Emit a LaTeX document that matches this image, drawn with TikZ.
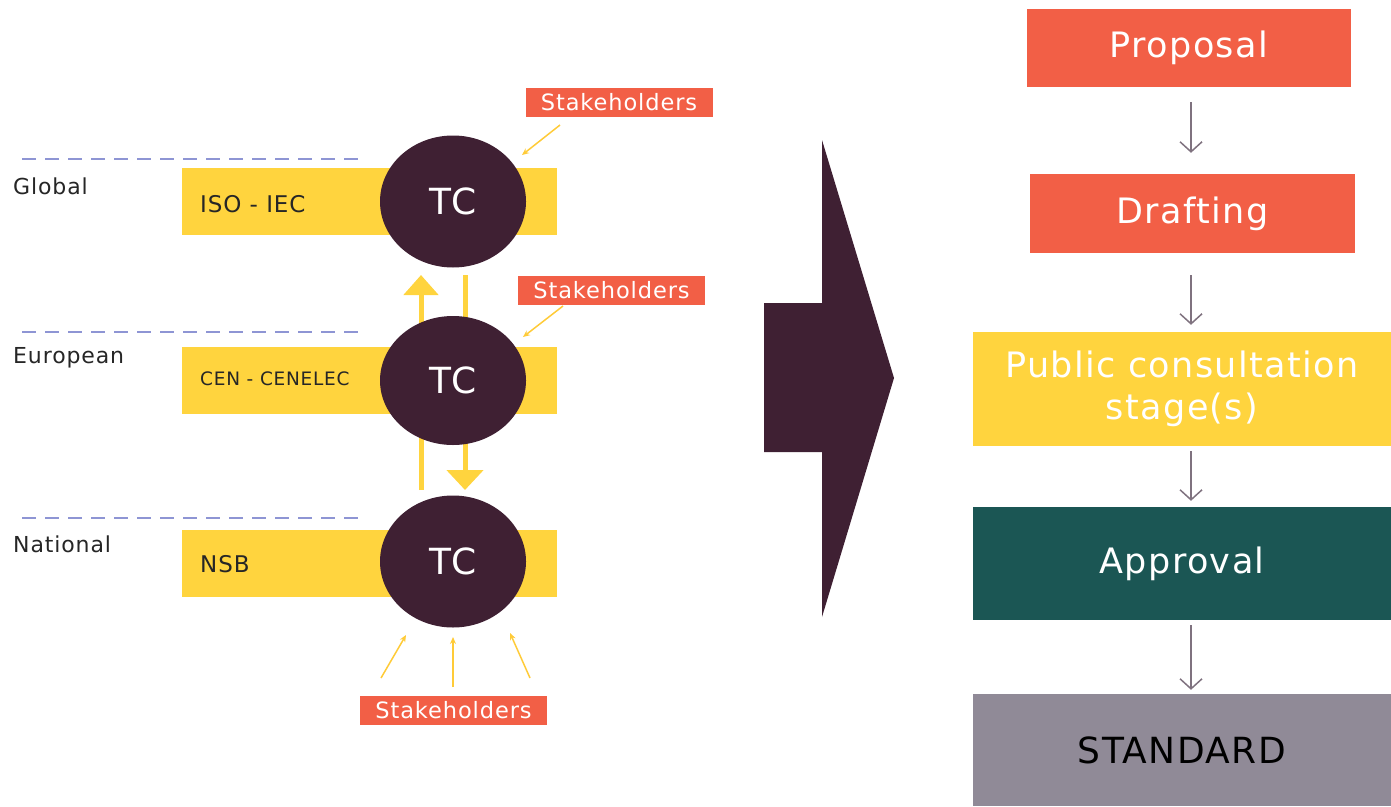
\documentclass[tikz,border=0pt]{standalone}
\usepackage{fontspec}
\setmainfont{DejaVu Sans}[LetterSpace=4]
\usetikzlibrary{arrows.meta,shapes.geometric}
\definecolor{cred}{HTML}{F25F46}
\definecolor{cyel}{HTML}{FFD43E}
\definecolor{cdark}{HTML}{3F2033}
\definecolor{cteal}{HTML}{1B5654}
\definecolor{cgrey}{HTML}{908A97}
\definecolor{carrow}{HTML}{7F727F}
\definecolor{clav}{HTML}{8E95D4}
\definecolor{ctext}{HTML}{262626}
\tikzset{
  stepbox/.style={rectangle, inner sep=0pt, text=white, font=\fontsize{35}{42}\selectfont, align=center},
  bar/.style={rectangle, fill=cyel, inner sep=0pt, minimum width=375pt, minimum height=67pt},
  tc/.style={ellipse, fill=cdark, inner sep=0pt, minimum width=146pt, minimum height=132pt, text=white, font=\fontsize{36}{40}\selectfont},
  stake/.style={rectangle, fill=cred, inner sep=0pt, minimum width=187pt, minimum height=29pt, text=white, font=\fontsize{22.5}{25}\selectfont},
  lvl/.style={anchor=base west, inner sep=0pt, text=ctext, font=\fontsize{22}{25}\selectfont},
  org/.style={anchor=base west, inner sep=0pt, text=ctext, font=\fontsize{23}{25}\selectfont},
  dline/.style={clav, line width=2pt, dash pattern=on 14pt off 9pt},
  flow/.style={carrow, line width=1.5pt, -{Straight Barb[length=10pt,width=22pt]}},
  sarrow/.style={cyel!90!orange, line width=1.5pt, -{Stealth[length=7pt,width=6pt]}},
  bigup/.style={cyel, line width=5pt, -{Triangle[length=20pt,width=34pt]}},
}
\begin{document}
\begin{tikzpicture}[x=1pt,y=-1pt]
\useasboundingbox (0,0) rectangle (1391,806);
% dashed level lines
\coordinate (d1a) at (22,159); \coordinate (d1b) at (358,159);
\coordinate (d2a) at (22,332); \coordinate (d2b) at (358,332);
\coordinate (d3a) at (22,518); \coordinate (d3b) at (358,518);
\draw[dline] (d1a) -- (d1b);
\draw[dline] (d2a) -- (d2b);
\draw[dline] (d3a) -- (d3b);
% level labels
\node[lvl] (lg) at (13,194) {Global};
\node[lvl] (le) at (13,363) {European};
\node[lvl] (ln) at (13,552) {National};
% bars
\node[bar] (b1) at (369.5,201.5) {};
\node[bar] (b2) at (369.5,380.5) {};
\node[bar] (b3) at (369.5,563) {};
\node[org] (o1) at (200,212) {ISO - IEC};
\node[org, font=\fontsize{18.5}{22}\selectfont] (o2) at (200,385) {CEN - CENELEC};
\node[org] (o3) at (200,572) {NSB};
% vertical arrows between levels
\coordinate (ua) at (421,490); \coordinate (ub) at (421,275);
\coordinate (da) at (465,275); \coordinate (db) at (465,490);
\draw[bigup] (ua) -- (ub);
\draw[bigup, -{Triangle[length=20pt,width=36pt]}] (da) -- (db);
% TC circles
\node[tc] (tc1) at (453,201.5) {TC};
\node[tc, minimum height=129pt] (tc2) at (453,380.5) {TC};
\node[tc] (tc3) at (453,561.5) {TC};
% stakeholders
\node[stake] (s1) at (619,102.5) {Stakeholders};
\node[stake] (s2) at (611.5,290) {Stakeholders};
\node[stake] (s3) at (453.5,710) {Stakeholders};
\coordinate (a1t) at (560,125); \coordinate (a1h) at (522,155);
\coordinate (a2t) at (563,306); \coordinate (a2h) at (523,337);
\coordinate (a3t) at (381,678); \coordinate (a3h) at (406,635);
\coordinate (a4t) at (453,687); \coordinate (a4h) at (453,637);
\coordinate (a5t) at (530,678); \coordinate (a5h) at (510,633);
\draw[sarrow] (a1t) -- (a1h);
\draw[sarrow] (a2t) -- (a2h);
\draw[sarrow] (a3t) -- (a3h);
\draw[sarrow] (a4t) -- (a4h);
\draw[sarrow] (a5t) -- (a5h);
% big arrow
\fill[cdark] (764,303) -- (822,303) -- (822,140) -- (894,378) -- (822,617) -- (822,452) -- (764,452) -- cycle;
% process steps
\node[stepbox, fill=cred, minimum width=324pt, minimum height=78pt] (p1) at (1189,48) {Proposal};
\node[stepbox, fill=cred, minimum width=325pt, minimum height=79pt] (p2) at (1192.5,213.5) {Drafting};
\node[stepbox, fill=cyel, minimum width=418pt, minimum height=114pt] (p3) at (1182,389) {Public consultation\\stage(s)};
\node[stepbox, fill=cteal, minimum width=418pt, minimum height=113pt] (p4) at (1182,563.5) {Approval};
\node[stepbox, fill=cgrey, minimum width=418pt, minimum height=112pt, text=black, font=\fontsize{36}{40}\selectfont] (p5) at (1182,750) {STANDARD};
\coordinate (ax) at (1191,0);
\draw[flow, shorten <=15pt, shorten >=21pt] (p1.south -| ax) -- (p2.north -| ax);
\draw[flow, shorten <=22pt, shorten >=7pt] (p2.south -| ax) -- (p3.north -| ax);
\draw[flow, shorten <=5pt, shorten >=6pt] (p3.south -| ax) -- (p4.north -| ax);
\draw[flow, shorten <=5pt, shorten >=4pt] (p4.south -| ax) -- (p5.north -| ax);
\end{tikzpicture}
\end{document}
